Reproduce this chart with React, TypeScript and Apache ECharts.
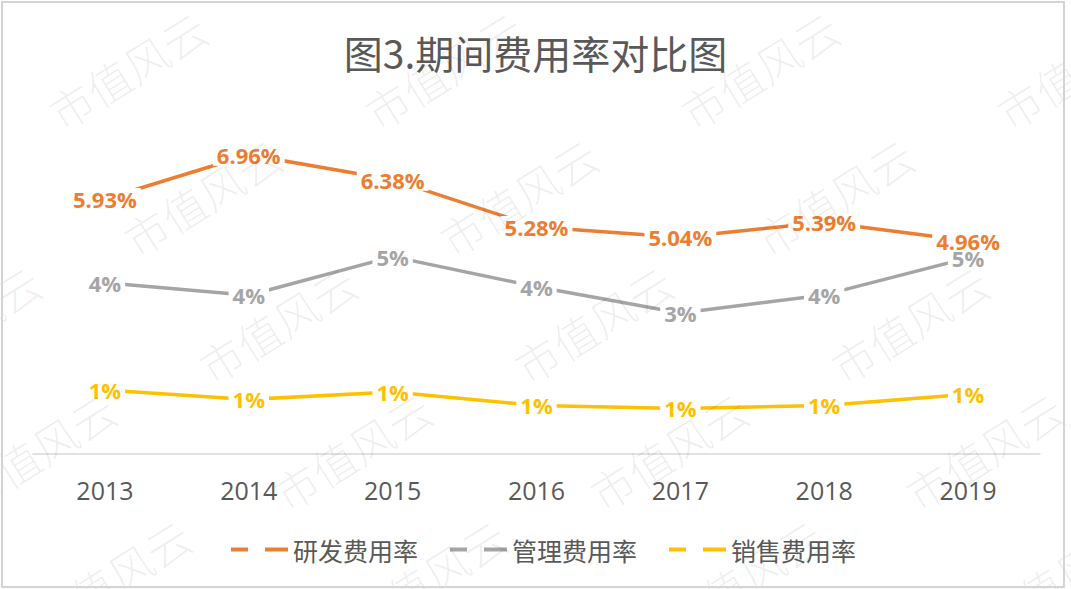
import React, { useEffect, useRef } from "react";
import * as echarts from "echarts";

// Years on the category axis
const years = ["2013", "2014", "2015", "2016", "2017", "2018", "2019"];

// Expense ratios, in percent
const rdRatio = [5.93, 6.96, 6.38, 5.28, 5.04, 5.39, 4.96];
const adminRatio = [3.98, 3.69, 4.59, 3.89, 3.28, 3.7, 4.56];
const salesRatio = [1.49, 1.27, 1.44, 1.13, 1.06, 1.13, 1.39];

const seriesNames = ["研发费用率", "管理费用率", "销售费用率"];
const seriesColors = ["#ED7D31", "#A5A5A5", "#FFC000"];

const titleText = "图3.期间费用率对比图";
const watermarkText = "市值风云";

const W = 1071;
const H = 589;

// Two-dash legend glyph
const dashIcon = "path://M0,0H17V4H0Z M34,0H57V4H34Z";

function buildWatermarks() {
  const items: any[] = [];
  for (let r = 0; r < 5; r++) {
    const y = 70 + 127 * r;
    const base = 127 + 75 * r;
    for (let k = -1; k < 4; k++) {
      const x = base + 316 * k;
      if (x < -120 || x > W + 120) continue;
      items.push({
        type: "text",
        x,
        y,
        rotation: (32 * Math.PI) / 180,
        silent: true,
        z: 100,
        style: {
          text: watermarkText,
          fontSize: 44,
          fontFamily: "Noto Sans CJK SC",
          fontWeight: 300,
          fill: "rgba(0,0,0,0.065)",
          align: "center",
          verticalAlign: "middle",
        },
      });
    }
  }
  return items;
}

export default function App() {
  const ref = useRef<HTMLDivElement>(null);

  useEffect(() => {
    if (!ref.current) return;
    const chart = echarts.init(ref.current, undefined, { renderer: "svg" });

    const labelFont = {
      fontFamily: "Open Sans",
      fontWeight: "bold" as const,
      fontSize: 22,
    };

    const makeSeries = (idx: number, data: number[], decimals: number) => ({
      name: seriesNames[idx],
      type: "line",
      data,
      symbol: "circle",
      symbolSize: 1,
      showSymbol: true,
      lineStyle: { color: seriesColors[idx], width: 3.5 },
      itemStyle: { color: seriesColors[idx] },
      z: 5 - idx,
      label: {
        show: true,
        position: "inside",
        formatter: (p: any) =>
          decimals > 0
            ? `${Number(p.value).toFixed(decimals)}%`
            : `${Math.round(Number(p.value))}%`,
        color: seriesColors[idx],
        backgroundColor: "#ffffff",
        padding: [0, 4],
        ...labelFont,
      },
    });

    chart.setOption({
      animation: false,
      backgroundColor: "#ffffff",
      title: {
        text: titleText,
        left: "center",
        top: 27,
        textStyle: {
          fontSize: 39,
          fontWeight: "normal",
          color: "#595959",
          fontFamily: "Noto Sans CJK SC",
        },
      },
      legend: {
        left: 226,
        top: 532,
        itemWidth: 57,
        itemHeight: 4,
        itemGap: 32,
        data: seriesNames.map((n) => ({ name: n, icon: dashIcon })),
        textStyle: {
          fontSize: 25,
          color: "#595959",
          fontFamily: "Noto Sans CJK SC",
        },
      },
      grid: { left: 33, right: 31, top: 110, bottom: 135 },
      xAxis: {
        type: "category",
        data: years,
        boundaryGap: true,
        axisLine: { lineStyle: { color: "#d9d9d9", width: 1.5 } },
        axisTick: { show: false },
        axisLabel: {
          margin: 23,
          fontSize: 25,
          color: "#595959",
          fontFamily: "Open Sans",
        },
      },
      yAxis: {
        type: "value",
        min: 0,
        max: 8,
        show: false,
        splitLine: { show: false },
      },
      series: [
        makeSeries(0, rdRatio, 2),
        makeSeries(1, adminRatio, 0),
        makeSeries(2, salesRatio, 0),
      ],
      graphic: [
        {
          type: "rect",
          shape: { x: 2, y: 2, width: 1062, height: 585 },
          silent: true,
          z: 101,
          style: { fill: "none", stroke: "#d4d4d4", lineWidth: 2 },
        },
        ...buildWatermarks(),
      ],
    });

    return () => chart.dispose();
  }, []);

  return (
    <div
      ref={ref}
      style={{ position: "absolute", left: 0, top: 0, width: W, height: H }}
    />
  );
}
